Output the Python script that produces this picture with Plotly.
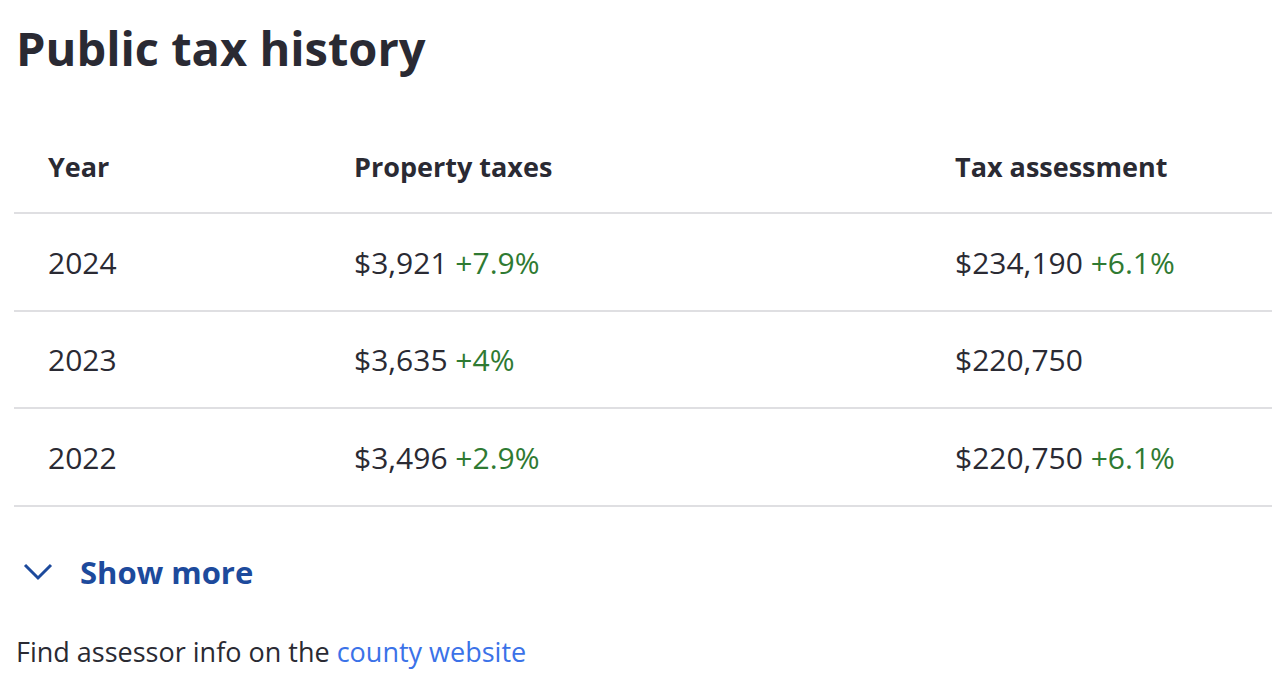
import plotly.graph_objects as go

years = ["2024", "2023", "2022"]
taxes = ["$3,921", "$3,635", "$3,496"]
tax_change = ["+7.9%", "+4%", "+2.9%"]
assessments = ["$234,190", "$220,750", "$220,750"]
assess_change = ["+6.1%", "", "+6.1%"]
headers = ["Year", "Property taxes", "Tax assessment"]

DARK = "#2a2a33"
GREEN = "#2f7a32"
FONT = "Open Sans"

col_x = [46, 352, 953]
row_y = [262, 359, 457]
line_y = [213, 311, 408, 506]

fig = go.Figure()
ann = []

ann.append(dict(x=14, y=48, text="<b>Public tax history</b>", xanchor="left", yanchor="middle",
                showarrow=False, font=dict(family=FONT, size=47, color=DARK)))
for cx, h in zip(col_x, headers):
    ann.append(dict(x=cx, y=166, text="<b>" + h + "</b>", xanchor="left", yanchor="middle",
                    showarrow=False, font=dict(family=FONT, size=27, color=DARK)))


def cell(val, chg):
    if chg:
        return val + " <span style='color:%s'>%s</span>" % (GREEN, chg)
    return val


for i, y in enumerate(row_y):
    vals = [years[i], cell(taxes[i], tax_change[i]), cell(assessments[i], assess_change[i])]
    for cx, v in zip(col_x, vals):
        ann.append(dict(x=cx, y=y, text=v, xanchor="left", yanchor="middle",
                        showarrow=False, font=dict(family=FONT, size=30, color=DARK)))

ann.append(dict(x=78, y=572, text="<b>Show more</b>", xanchor="left", yanchor="middle",
                showarrow=False, font=dict(family=FONT, size=31, color="#1d4a9c")))
ann.append(dict(x=14, y=651, text="Find assessor info on the <span style='color:#3b72e8'>county website</span>",
                xanchor="left", yanchor="middle", showarrow=False,
                font=dict(family=FONT, size=27, color=DARK)))

shapes = [dict(type="line", x0=14, x1=1290, y0=ly, y1=ly, line=dict(color="#d4d4d8", width=1.5))
          for ly in line_y]
# chevron
fig.add_trace(go.Scatter(x=[25, 38, 51], y=[565, 578, 565], mode="lines",
                         line=dict(color="#1d4a9c", width=3), hoverinfo="skip"))

# page body has an 8px margin, so the figure is shifted accordingly
fig.update_layout(
    width=1264, height=677, margin=dict(l=0, r=0, t=0, b=0),
    paper_bgcolor="white", plot_bgcolor="white", showlegend=False,
    annotations=ann, shapes=shapes,
    xaxis=dict(range=[8, 1272], visible=False, fixedrange=True),
    yaxis=dict(range=[685, 8], visible=False, fixedrange=True),
)
fig.write_html("out.html")
